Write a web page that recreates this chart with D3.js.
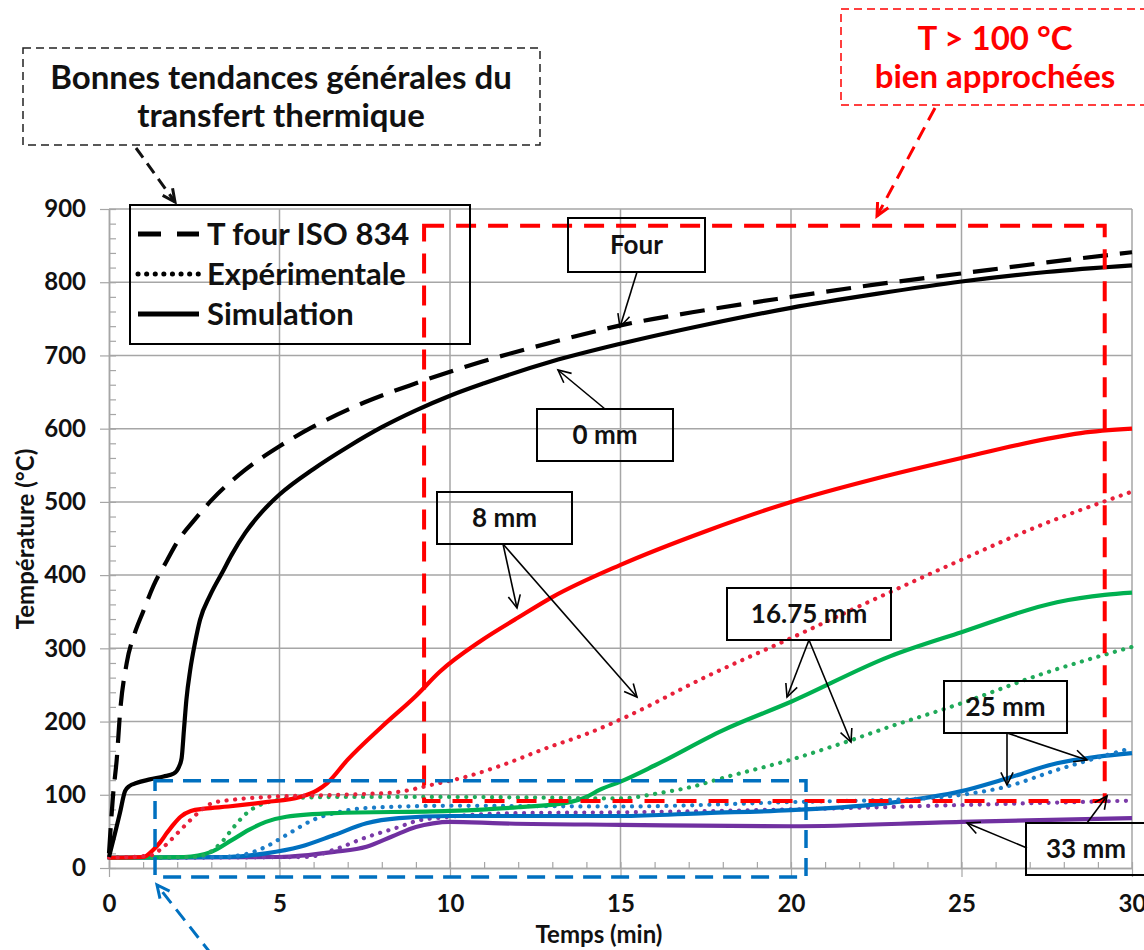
<!DOCTYPE html>
<html>
<head>
<meta charset="utf-8">
<script src="https://cdn.jsdelivr.net/npm/d3@7"></script>
<style>
  body { margin: 0; background: #fff; }
  svg { display: block; font-family: Lato, "Open Sans", sans-serif; font-weight: bold; }
</style>
</head>
<body>
<svg id="chart" width="1144" height="950"></svg>
<script>
// time (min), temperature (°C)
const FOUR = [[0,20],[0.12,100],[0.23,150],[0.32,210],[0.52,280],[0.75,320],[1,350],[1.3,385],[1.7,420],[2,445],[2.5,475],[3,502],[4,544],[5,576],[6,603],[7.5,636],[9,662],[10.9,691],[13,718],[15,741],[17.5,762],[20,780],[22.5,797],[25,812],[27.5,827],[30,841]]
const SIM_0 = [[0,15],[0.18,48],[0.32,75],[0.47,105],[0.6,112],[0.8,116],[1.2,121],[1.6,125],[1.9,129],[2.05,138],[2.13,150],[2.2,190],[2.27,230],[2.38,270],[2.52,307],[2.67,339],[2.96,372],[3.35,406],[3.6,428],[4,458],[4.5,487],[5,510],[6,545],[7,575],[8,602],[9,625],[10,645],[11,662],[13,692],[15,716],[17.5,742],[20,765],[22.5,784],[25,801],[27.5,814],[30,823]]
const SIM_8 = [[0,14],[1,15],[1.3,25],[1.5,35],[1.7,48],[1.9,60],[2.1,70],[2.4,78],[2.8,81],[3.5,84],[4.6,90],[5.6,97],[6.1,106],[6.4,116],[7,148],[8,193],[9,235],[9.7,268],[10.9,310],[12,342],[13,370],[15,414],[17.5,460],[20,500],[22.5,532],[25,560],[27.5,586],[28.5,594],[30,600]]
const EXP_8 = [[0,14],[1.2,17],[1.5,25],[1.7,33],[2.1,52],[2.4,66],[2.7,79],[3.05,89],[3.6,93],[4.6,97],[6,99],[7.5,101],[8.5,104],[9.5,114],[10.5,125],[11.5,140],[12.9,165],[14,183],[15.1,205],[17.5,261],[20,314],[22.4,366],[25,421],[27,462],[30,514]]
const SIM_16 = [[0,14],[2.2,15],[3,22],[3.6,38],[4.1,52],[4.6,63],[5.2,70],[6.6,75],[10,78],[12,83],[13.4,89],[14,97],[14.4,107],[15,118],[16,140],[18,188],[20,227],[22.9,289],[25,322],[27.8,363],[29.2,373],[30,376]]
const EXP_16 = [[0,14],[2.5,15],[2.9,20],[3.3,35],[3.64,55],[4.04,75],[4.6,89],[5.6,96],[7,97],[10,97],[13,96],[15,95],[16.1,102],[17.1,111],[18,123],[20,148],[21.6,172],[22.9,193],[25,225],[27.3,264],[30,302]]
const SIM_25 = [[0,14],[3.5,15],[4.6,20],[5.6,29],[6.6,45],[7.55,61],[8.5,68],[10,71],[15,71],[17.5,75],[20,79],[22.9,89],[25,105],[26.3,122],[27.8,143],[29,152],[30,157]]
const EXP_25 = [[0,14],[3.3,15],[4.1,20],[4.6,29],[5.2,45],[6,66],[6.8,77],[7.55,82],[10,85],[15,84],[20,90],[23.9,95],[25,100],[26.3,111],[27.8,134],[30,164]]
const SIM_33 = [[0,14],[5,15],[6.6,22],[7.55,29],[8.3,43],[9,56],[9.5,61],[10,63],[11.5,61],[15,59],[20,57],[25,63],[30,68]]
const EXP_33 = [[0,14],[5.8,15],[6.6,25],[7.55,42],[8.5,56],[9,64],[10,70],[12,75],[15,76],[20,80],[25,86],[30,92]]

const X_TICKS = [0, 5, 10, 15, 20, 25, 30]
const Y_TICKS = [0, 100, 200, 300, 400, 500, 600, 700, 800, 900]
const LEGEND = ["T four ISO 834", "Expérimentale", "Simulation"]

const svg = d3.select("#chart");
const x = d3.scaleLinear().domain([0, 30]).range([109, 1132]);
const y = d3.scaleLinear().domain([0, 900]).range([868, 209]);
const GRID = "#a6a6a6";

// grid
svg.append("g").selectAll("line").data(X_TICKS.slice(1)).enter().append("line")
  .attr("x1", d => x(d)).attr("x2", d => x(d)).attr("y1", y(0)).attr("y2", y(900))
  .attr("stroke", GRID).attr("stroke-width", 1.5);
svg.append("g").selectAll("line").data(Y_TICKS.slice(1)).enter().append("line")
  .attr("x1", x(0)).attr("x2", x(30)).attr("y1", d => y(d)).attr("y2", d => y(d))
  .attr("stroke", GRID).attr("stroke-width", 1.5);

// axes
const styleAxis = g => {
  g.select(".domain").attr("stroke", GRID).attr("stroke-width", 1.5);
  g.selectAll(".tick line").attr("stroke", GRID).attr("stroke-width", 1.2);
  g.selectAll("text").attr("fill", "#111").style("font-size", "24px").style("font-family", "Lato").style("font-weight", "bold");
};
svg.append("g").attr("transform", `translate(0,${y(0)})`)
  .call(d3.axisBottom(x).ticks(30).tickSize(-6).tickFormat("").tickSizeOuter(0)).call(styleAxis);
svg.append("g").attr("transform", `translate(${x(0)},0)`)
  .call(d3.axisLeft(y).ticks(45).tickSize(-7).tickFormat("").tickSizeOuter(0)).call(styleAxis);
svg.append("g").attr("transform", `translate(0,${y(0)})`)
  .call(d3.axisBottom(x).tickValues(X_TICKS).tickSize(9).tickPadding(18).tickSizeOuter(0)).call(styleAxis);
svg.append("g").attr("transform", `translate(${x(0)},0)`)
  .call(d3.axisLeft(y).tickValues(Y_TICKS).tickSize(9).tickPadding(14).tickSizeOuter(0)).call(styleAxis);

svg.append("text").attr("x", 599).attr("y", 943).attr("text-anchor", "middle")
  .style("font-size", "24px").attr("fill", "#111").text("Temps (min)");
svg.append("text").attr("transform", "translate(34,539) rotate(-90)").attr("text-anchor", "middle")
  .style("font-size", "24px").attr("fill", "#111").text("Température (°C)");

// curves
const line = d3.line().x(d => x(d[0])).y(d => y(d[1])).curve(d3.curveMonotoneX);
const DOT = "0.1 8.5";
const series = [
  [SIM_33, "#7030a0", null], [EXP_33, "#7a3aa8", DOT],
  [SIM_25, "#0070c0", null], [EXP_25, "#1a7cc8", DOT],
  [SIM_16, "#00b050", null], [EXP_16, "#20aa5a", DOT],
  [SIM_8, "#ff0000", null], [EXP_8, "#e8203a", DOT],
  [SIM_0, "#000", null], [FOUR, "#000", "25 12"]
];
series.forEach(([data, color, dash]) => {
  svg.append("path").datum(data).attr("d", line)
    .attr("fill", "none").attr("stroke", color).attr("stroke-width", 4.2)
    .attr("stroke-linecap", dash === DOT ? "round" : "butt")
    .attr("stroke-linejoin", "round")
    .attr("stroke-dasharray", dash);
});

// highlight zones
svg.append("rect").attr("x", x(9.24)).attr("y", y(877)).attr("width", x(29.2) - x(9.24)).attr("height", y(91.5) - y(877))
  .attr("fill", "none").attr("stroke", "#ff0000").attr("stroke-width", 4).attr("stroke-dasharray", "20 12");
svg.append("rect").attr("x", x(1.35)).attr("y", y(119)).attr("width", x(20.44) - x(1.35)).attr("height", y(-12.3) - y(119))
  .attr("fill", "none").attr("stroke", "#0070c0").attr("stroke-width", 3.5).attr("stroke-dasharray", "18 10");

// legend
const lg = svg.append("g");
lg.append("rect").attr("x", 130).attr("y", 205).attr("width", 340).attr("height", 139)
  .attr("fill", "none").attr("stroke", "#000").attr("stroke-width", 2);
const legDash = ["23 16", DOT, null];
LEGEND.forEach((name, i) => {
  const ly = 234 + i * 40;
  lg.append("line").attr("x1", 138).attr("x2", 199).attr("y1", ly).attr("y2", ly)
    .attr("stroke", "#000").attr("stroke-width", 5)
    .attr("stroke-linecap", legDash[i] === DOT ? "round" : "butt")
    .attr("stroke-dasharray", legDash[i]);
  lg.append("text").attr("x", 207).attr("y", ly + 11).style("font-size", "31px").attr("fill", "#111").text(name);
});

// arrows
function arrow(x1, y1, x2, y2, color, width, dash, head) {
  svg.append("line").attr("x1", x1).attr("y1", y1).attr("x2", x2).attr("y2", y2)
    .attr("stroke", color).attr("stroke-width", width).attr("stroke-dasharray", dash);
  const a = Math.atan2(y2 - y1, x2 - x1), s = head, w = 0.45;
  svg.append("path")
    .attr("d", `M${x2 - s * Math.cos(a - w)},${y2 - s * Math.sin(a - w)}L${x2},${y2}L${x2 - s * Math.cos(a + w)},${y2 - s * Math.sin(a + w)}`)
    .attr("fill", "none").attr("stroke", color).attr("stroke-width", width);
}

// curve labels
const LABELS = [
  {t: "Four", x: 568, y: 218, w: 137, h: 54},
  {t: "0 mm", x: 537, y: 409, w: 136, h: 52},
  {t: "8 mm", x: 437, y: 492, w: 135, h: 52},
  {t: "16.75 mm", x: 727, y: 588, w: 164, h: 52},
  {t: "25 mm", x: 944, y: 681, w: 123, h: 52},
  {t: "33 mm", x: 1026, y: 823, w: 125, h: 52}
];
LABELS.forEach(l => {
  svg.append("rect").attr("x", l.x).attr("y", l.y).attr("width", l.w).attr("height", l.h)
    .attr("fill", "none").attr("stroke", "#000").attr("stroke-width", 2);
  svg.append("text").attr("x", Math.min(l.x + l.w / 2, 1086)).attr("y", l.y + l.h / 2 + 9)
    .attr("text-anchor", "middle").style("font-size", "26px").attr("fill", "#111").text(l.t);
});
arrow(637, 272, 620, 327, "#000", 1.6, null, 14);
arrow(605, 409, 558, 370, "#000", 1.6, null, 14);
arrow(503, 544, 517, 608, "#000", 1.6, null, 14);
arrow(503, 544, 637, 697, "#000", 1.6, null, 14);
arrow(809, 640, 787, 697, "#000", 1.6, null, 14);
arrow(809, 640, 851, 742, "#000", 1.6, null, 14);
arrow(1007, 733, 1007, 785, "#000", 1.6, null, 14);
arrow(1007, 733, 1087, 760, "#000", 1.6, null, 14);
arrow(1027, 848, 967, 823, "#000", 1.6, null, 14);
arrow(1087, 823, 1107, 796, "#000", 1.6, null, 14);

// comment boxes
svg.append("rect").attr("x", 23).attr("y", 48).attr("width", 517).attr("height", 97)
  .attr("fill", "none").attr("stroke", "#222").attr("stroke-width", 1.5).attr("stroke-dasharray", "8 5");
svg.append("text").attr("x", 281).attr("y", 89).attr("text-anchor", "middle").style("font-size", "33px").attr("fill", "#111").text("Bonnes tendances générales du");
svg.append("text").attr("x", 281).attr("y", 127).attr("text-anchor", "middle").style("font-size", "33px").attr("fill", "#111").text("transfert thermique");
arrow(136, 148, 175, 202, "#111", 3, "12 7", 14);

svg.append("rect").attr("x", 841).attr("y", 9).attr("width", 320).attr("height", 96)
  .attr("fill", "none").attr("stroke", "#ff0000").attr("stroke-width", 1.5).attr("stroke-dasharray", "8 5");
svg.append("text").attr("x", 995).attr("y", 50).attr("text-anchor", "middle").style("font-size", "33px").attr("fill", "#ff0000").text("T > 100 °C");
svg.append("text").attr("x", 995).attr("y", 88).attr("text-anchor", "middle").style("font-size", "33px").attr("fill", "#ff0000").text("bien approchées");
arrow(935, 108, 877, 216, "#ff0000", 3, "14 8", 14);

arrow(212, 955, 157, 885, "#0070c0", 3, "14 8", 14);
</script>
</body>
</html>
